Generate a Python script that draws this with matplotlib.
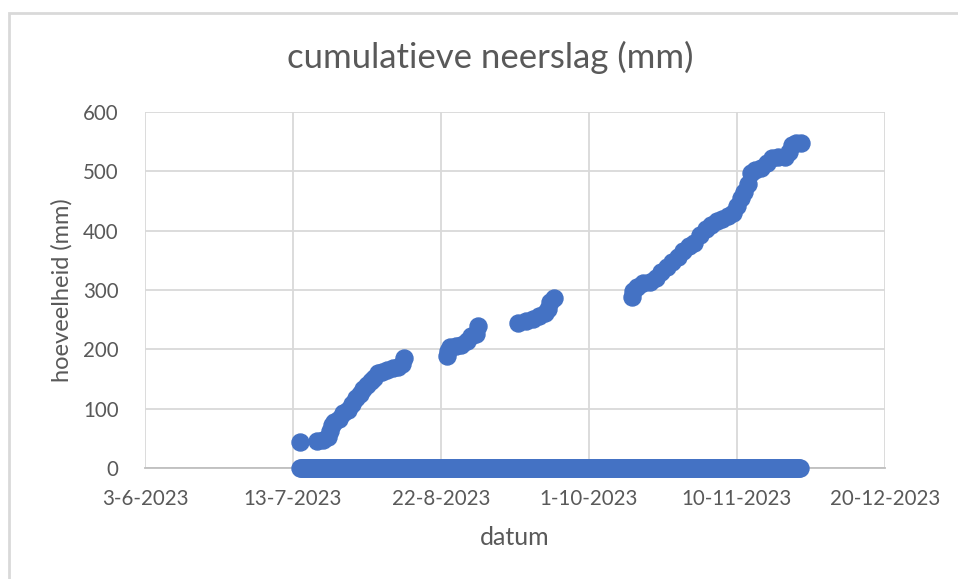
import matplotlib.pyplot as plt
import matplotlib.dates as mdates
from matplotlib.patches import Rectangle
from matplotlib.ticker import FixedLocator, FuncFormatter
import numpy as np
import pandas as pd

plt.rcParams['font.family'] = ['Lato', 'DejaVu Sans']

# cumulatieve neerslag: dagen na 13-7-2023 en waarde (mm)
start = pd.Timestamp('2023-07-13')
dagen = [2, 6.5, 8, 9.5, 10, 10.5, 11, 12.5, 13.5, 15, 16, 17, 18, 19, 20, 21,
         22, 23, 24, 25.5, 27, 28.5, 29.5, 30,
         41.5, 41.8, 42.5, 44, 45.5, 47, 48, 49.5, 50,
         60.7, 63, 65, 66.5, 68, 69, 69.5, 70.5,
         91.5, 92, 93, 94.5, 96.5, 98, 99.5, 101, 102.5, 104, 105.5, 107,
         108.5, 110, 111.5, 113, 114.5, 116, 117.5, 119, 120, 121, 122, 123,
         123.8, 125, 126.5, 128, 129.5, 131, 133, 134, 134.8, 136, 137.3]
neerslag = [43, 45, 48, 52, 62, 72, 78, 82, 92, 97, 108, 118, 125, 133, 140, 146,
            152, 160, 162, 166, 168, 170, 175, 185,
            188, 198, 204, 206, 208, 214, 222, 226, 240,
            245, 248, 251, 256, 262, 268, 280, 287,
            288, 298, 305, 311, 314, 320, 330, 338, 348, 356, 366, 374,
            380, 392, 402, 410, 416, 420, 424, 430, 442, 455, 466, 478,
            497, 502, 506, 514, 522, 524, 524, 532, 545, 548, 548]

# metingen zonder neerslag (waarde 0)
nul_start = '2023-07-15'
nul_eind = '2023-11-27'

datums = [start + pd.Timedelta(days=d) for d in dagen]
nul_datums = pd.date_range(nul_start, nul_eind, freq='6h')
nul_waarden = np.zeros(len(nul_datums))

blauw = '#4472C4'
tekst = '#595959'
grid = '#d9d9d9'

fig = plt.figure(figsize=(9.58, 5.79), dpi=100)
ax = fig.add_axes([145 / 958, 1 - 468 / 579, 740 / 958, 356 / 579])

ax.scatter(nul_datums, nul_waarden, s=150, color=blauw, zorder=3, clip_on=False)
ax.scatter(datums, neerslag, s=150, color=blauw, zorder=3, clip_on=False)

x0 = pd.Timestamp('2023-06-03')
x1 = pd.Timestamp('2023-12-20')
ax.set_xlim(mdates.date2num(x0), mdates.date2num(x1))
ax.set_ylim(0, 600)
xticks = [mdates.date2num(x0 + pd.Timedelta(days=40 * i)) for i in range(6)]
ax.xaxis.set_major_locator(FixedLocator(xticks))


def datum_fmt(v, pos):
    d = mdates.num2date(v)
    return f'{d.day}-{d.month}-{d.year}'


ax.xaxis.set_major_formatter(FuncFormatter(datum_fmt))
ax.set_yticks(range(0, 601, 100))

ax.grid(True, color=grid, linewidth=1.3)
ax.set_axisbelow(True)
for s in ['top', 'right', 'left']:
    ax.spines[s].set_visible(False)
ax.spines['bottom'].set_color('#bfbfbf')
ax.spines['bottom'].set_linewidth(1.3)
ax.tick_params(length=0, labelsize=14.8, colors=tekst)
ax.tick_params(axis='x', pad=15)
ax.tick_params(axis='y', pad=19)

ax.set_xlabel('datum', fontsize=18, color=tekst)
ax.set_ylabel('hoeveelheid (mm)', fontsize=17, color=tekst)
ax.yaxis.set_label_coords(-(145 - 73) / 740, 0.5)
ax.xaxis.set_label_coords(0.5, -(526 - 468) / 356)

fig.text(490 / 958, 1 - 57 / 579, 'cumulatieve neerslag (mm)', fontsize=25,
         color=tekst, ha='center', va='center')

# rand van het grafiekgebied
fig.patches.append(Rectangle((9 / 958, -0.05), 1.2, 1 - 13 / 579 + 0.05,
                             transform=fig.transFigure, fill=False,
                             edgecolor=grid, linewidth=2))

fig.savefig('out.png', dpi=100)
